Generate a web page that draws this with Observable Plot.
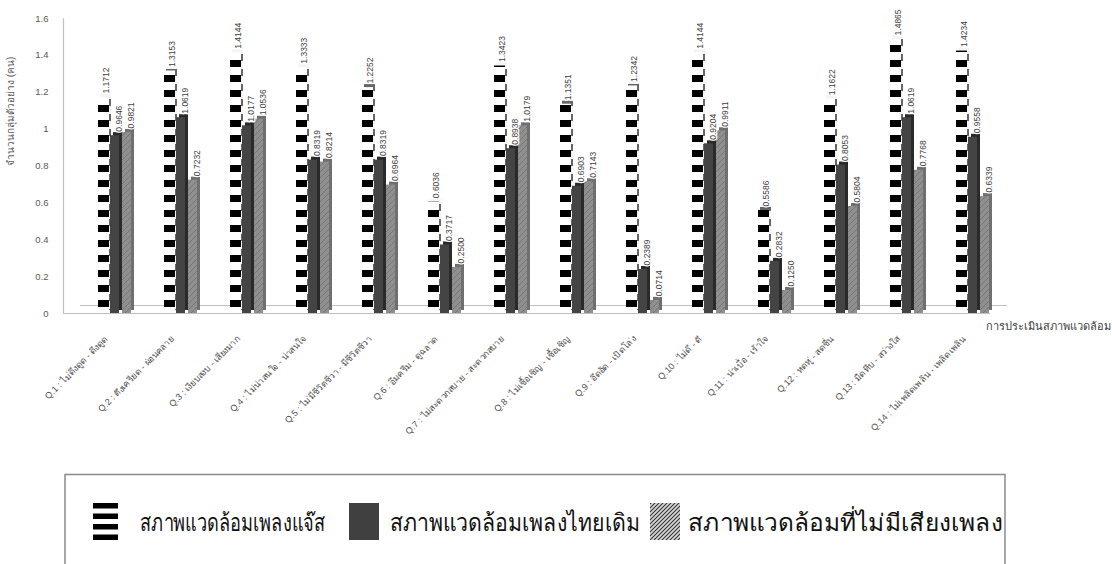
<!DOCTYPE html>
<html>
<head>
<meta charset="utf-8">
<script src="https://cdn.jsdelivr.net/npm/d3@7"></script>
<script src="https://cdn.jsdelivr.net/npm/@observablehq/plot@0.6"></script>
<style>
  body { margin: 0; background: #fff; font-family: "Liberation Sans", "Noto Sans", sans-serif; }
  #wrap { position: relative; width: 1112px; height: 564px; overflow: hidden; }
</style>
</head>
<body>
<div id="wrap"></div>
<script>
// ---- data ----
const categories = [
  "Q.1 : ไม่ดึงดูด - ดึงดูด",
  "Q.2 : ตึงเครียด - ผ่อนคลาย",
  "Q.3 : เงียบสงบ - เสียงมาก",
  "Q.4 : ไม่น่าสนใจ - น่าสนใจ",
  "Q.5 : ไม่มีชีวิตชีวา - มีชีวิตชีวา",
  "Q.6 : อึมครึม - ดูฉลาด",
  "Q.7 : ไม่สะดวกสบาย - สะดวกสบาย",
  "Q.8 : ไม่เชื้อเชิญ - เชื้อเชิญ",
  "Q.9 : อึดอัด - เปิดโล่ง",
  "Q.10 : ไม่ดี - ดี",
  "Q.11 : น่าเบื่อ - เร้าใจ",
  "Q.12 : หดหู่ - สดชื่น",
  "Q.13 : มืดทึบ - สว่างใส",
  "Q.14 : ไม่เพลิดเพลิน - เพลิดเพลิน"
];
const seriesNames = ["สภาพแวดล้อมเพลงแจ๊ส", "สภาพแวดล้อมเพลงไทยเดิม", "สภาพแวดล้อมที่ไม่มีเสียงเพลง"];
const jazz   = [1.1712, 1.3153, 1.4144, 1.3333, 1.2252, 0.6036, 1.3423, 1.1351, 1.2342, 1.4144, 0.5586, 1.1622, 1.4865, 1.4234];
const thai   = [0.9646, 1.0619, 1.0177, 0.8319, 0.8319, 0.3717, 0.8938, 0.6903, 0.2389, 0.9204, 0.2832, 0.8053, 1.0619, 0.9558];
const silent = [0.9821, 0.7232, 1.0536, 0.8214, 0.6964, 0.2500, 1.0179, 0.7143, 0.0714, 0.9911, 0.1250, 0.5804, 0.7768, 0.6339];
const yTicks = [0, 0.2, 0.4, 0.6, 0.8, 1, 1.2, 1.4, 1.6];
const yTitle = "จำนวนกลุ่มตัวอย่าง (คน)";
const xTitle = "การประเมินสภาพแวดล้อม";

const rows = (vals) => categories.map((c, i) => ({category: c, value: vals[i]}));
const jazzRows = rows(jazz), thaiRows = rows(thai), silentRows = rows(silent);

const numFont = "'Liberation Sans', sans-serif";
const labelOpts = {x: "category", y: "value", text: d => d.value.toFixed(4), rotate: -90,
  textAnchor: "start", fontSize: 8.5, fill: "#404040", stroke: "white", strokeWidth: 2.5, dy: -4, fontFamily: numFont};

const chart = Plot.plot({
  width: 1112,
  height: 470,
  marginLeft: 63,
  marginRight: 85,
  marginTop: 18,
  marginBottom: 157,
  style: {background: "transparent", fontFamily: numFont},
  x: {domain: categories, paddingInner: 0.46, paddingOuter: 0.449},
  y: {domain: [0, 1.6]},
  marks: [
    // y axis line
    Plot.frame({anchor: "left", stroke: "#c0c0c0", strokeWidth: 1.2}),
    // 3D floor
    Plot.ruleY([0], {stroke: "#c0c0c0", strokeWidth: 1.2, insetRight: 37}),
    Plot.ruleY([0], {stroke: "#c0c0c0", strokeWidth: 1, dy: -8, dx: 17, insetRight: 37}),
    Plot.axisY({ticks: yTicks, tickSize: 0, tickPadding: 15, fontSize: 9.5, fill: "#595959",
      tickFormat: d => String(+d.toFixed(1)), label: null}),
    Plot.text([yTitle], {frameAnchor: "left", text: d => d, rotate: -90, dx: -53, fontSize: 10, fill: "#595959"}),
    Plot.axisX({tickSize: 0, tickPadding: 24, tickRotate: -45, fontSize: 9, fill: "#505050", dx: -10, label: null}),
    // jazz bars (side + front)
    Plot.barY(jazzRows, {x: "category", y: "value", insetLeft: 0, insetRight: 25, dx: 2, dy: -3, fill: "url(#jazzSide)"}),
    Plot.barY(jazzRows, {x: "category", y: "value", insetLeft: 0, insetRight: 25, fill: "url(#jazzFront)"}),
    // thai bars
    Plot.barY(thaiRows, {x: "category", y: "value", insetLeft: 12, insetRight: 15, dx: 3, dy: -3, fill: "#2a2a2a"}),
    Plot.barY(thaiRows, {x: "category", y: "value", insetLeft: 12, insetRight: 15, fill: "#444444"}),
    // silent bars
    Plot.barY(silentRows, {x: "category", y: "value", insetLeft: 24, insetRight: 3, dx: 3, dy: -3, fill: "#6f6f6f"}),
    Plot.barY(silentRows, {x: "category", y: "value", insetLeft: 24, insetRight: 3, fill: "url(#hatch)"}),
    // value labels
    Plot.text(jazzRows, {...labelOpts, dx: -10}),
    Plot.text(thaiRows, {...labelOpts, dx: 3}),
    Plot.text(silentRows, {...labelOpts, dx: 15}),
    // x axis title
    Plot.text([xTitle], {frameAnchor: "bottom-right", text: d => d, textAnchor: "start", dx: -42, dy: 16,
      fontSize: 11, fill: "#404040"})
  ]
});

chart.insertAdjacentHTML("afterbegin", `
<defs>
  <pattern id="jazzFront" patternUnits="userSpaceOnUse" width="20" height="15">
    <rect width="20" height="15" fill="white"/>
    <rect y="0" width="20" height="7" fill="black"/>
  </pattern>
  <pattern id="jazzSide" patternUnits="userSpaceOnUse" width="20" height="15" y="-3">
    <rect width="20" height="15" fill="#f4f4f4"/>
    <rect y="0" width="20" height="7" fill="#666"/>
  </pattern>
  <pattern id="hatch" patternUnits="userSpaceOnUse" width="6" height="6">
    <rect width="6" height="6" fill="#8f8f8f"/>
    <path d="M0,6 L6,0 M-1,1 L1,-1 M5,7 L7,5" stroke="#777" stroke-width="1"/>
  </pattern>
</defs>`);

const wrap = document.getElementById("wrap");
wrap.appendChild(chart);

// ---- legend (below the chart) ----
const legendFont = "'Noto Sans', 'Liberation Sans', sans-serif";
const legendItems = [
  {icon: "stripes", iconX: 93, textX: 140, textLen: 185},
  {icon: "solid", iconX: 349, textX: 390, textLen: 250},
  {icon: "hatch", iconX: 650, textX: 688, textLen: 315}
];
const NS = "http://www.w3.org/2000/svg";
const leg = document.createElementNS(NS, "svg");
leg.setAttribute("width", 1112);
leg.setAttribute("height", 94);
leg.style.display = "block";
leg.innerHTML = `
<defs>
  <pattern id="hatchLeg" patternUnits="userSpaceOnUse" width="4" height="4">
    <rect width="4" height="4" fill="#d8d8d8"/>
    <path d="M0,4 L4,0 M-1,1 L1,-1 M3,5 L5,3" stroke="#333" stroke-width="1.1"/>
  </pattern>
</defs>
<rect x="65" y="4.5" width="940" height="120" fill="white" stroke="#8a8a8a" stroke-width="1.5"/>`;
legendItems.forEach((it, i) => {
  const g = document.createElementNS(NS, "g");
  let icon = "";
  if (it.icon === "stripes") {
    icon = [0, 1, 2, 3].map(k => `<rect x="${it.iconX}" y="${33 + k * 10.5}" width="25" height="5.5" fill="black"/>`).join("");
  } else if (it.icon === "solid") {
    icon = `<rect x="${it.iconX}" y="33" width="30" height="37" fill="#404040"/>`;
  } else {
    icon = `<rect x="${it.iconX}" y="33" width="30" height="37" fill="url(#hatchLeg)"/>`;
  }
  g.innerHTML = icon;
  const t = document.createElementNS(NS, "text");
  t.setAttribute("x", it.textX);
  t.setAttribute("y", 61);
  t.setAttribute("font-size", 24);
  t.setAttribute("font-family", legendFont);
  t.setAttribute("fill", "#111");
  t.setAttribute("textLength", it.textLen);
  t.setAttribute("lengthAdjust", "spacingAndGlyphs");
  t.textContent = seriesNames[i];
  g.appendChild(t);
  leg.appendChild(g);
});
wrap.appendChild(leg);
</script>
</body>
</html>
